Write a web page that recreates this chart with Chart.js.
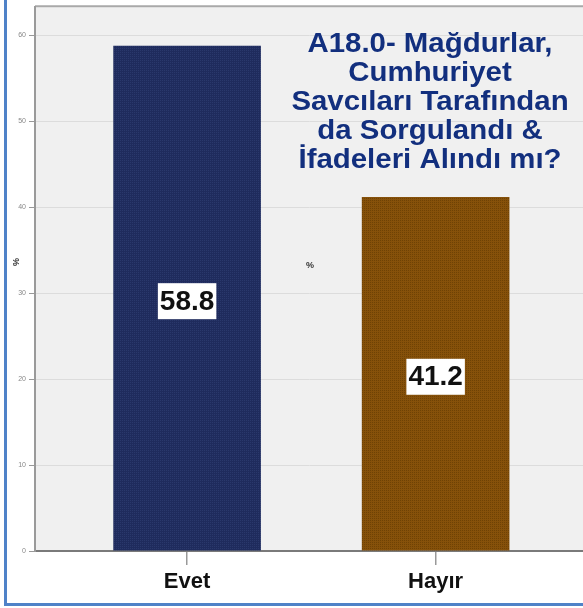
<!DOCTYPE html>
<html>
<head>
<meta charset="utf-8">
<script src="https://cdn.jsdelivr.net/npm/chart.js@4.4.1/dist/chart.umd.min.js"></script>
<style>
  html, body { margin: 0; padding: 0; background: #ffffff; }
  canvas { display: block; }
</style>
</head>
<body>
<canvas id="c" width="583" height="608"></canvas>
<script>
// ---- data ----
const categories = ['Evet', 'Hayır'];
const values = [58.8, 41.2];
const yTicks = [0, 10, 20, 30, 40, 50, 60];
const titleLines = ['A18.0- Mağdurlar,', 'Cumhuriyet', 'Savcıları Tarafından', 'da Sorgulandı &', 'İfadeleri Alındı mı?'];
const axisTitle = '%';

const FONT = '"Liberation Sans", Arial, sans-serif';

function makePattern(base, dot) {
  const p = document.createElement('canvas');
  p.width = 2; p.height = 2;
  const g = p.getContext('2d');
  g.fillStyle = base; g.fillRect(0, 0, 2, 2);
  g.fillStyle = dot; g.fillRect(0, 0, 1, 1);
  return g.createPattern(p, 'repeat');
}
const barFills = [makePattern('#1f2b5d', '#2a386c'), makePattern('#86510a', '#6f4204')];

const framePlugin = {
  id: 'frame',
  beforeDraw(chart) {
    const {ctx, chartArea: a} = chart;
    ctx.save();
    ctx.fillStyle = '#f0f0f0';
    ctx.fillRect(a.left, a.top, a.right - a.left, a.bottom - a.top);
    ctx.strokeStyle = '#a9a9a9';
    ctx.lineWidth = 2;
    ctx.beginPath();
    ctx.moveTo(a.left, a.top - 1);
    ctx.lineTo(a.right, a.top - 1);
    ctx.stroke();
    ctx.restore();
  },
  afterDatasetsDraw(chart) {
    const {ctx} = chart;
    const meta = chart.getDatasetMeta(0);
    ctx.save();
    ctx.font = 'bold 28px ' + FONT;
    ctx.textAlign = 'center';
    ctx.textBaseline = 'middle';
    meta.data.forEach((bar, i) => {
      const txt = values[i].toFixed(1);
      const cy = (bar.y + bar.base) / 2 + 3;
      const w = ctx.measureText(txt).width + 4;
      const h = 36;
      ctx.fillStyle = '#ffffff';
      ctx.fillRect(bar.x - w / 2, cy - h / 2, w, h);
      ctx.fillStyle = '#111111';
      ctx.fillText(txt, bar.x, cy + 1);
    });
    ctx.restore();
  },
  afterDraw(chart) {
    const {ctx} = chart;
    ctx.save();
    // title
    ctx.font = 'bold 28px ' + FONT;
    ctx.fillStyle = '#122f7e';
    ctx.textAlign = 'center';
    ctx.textBaseline = 'alphabetic';
    titleLines.forEach((t, i) => {
      ctx.save();
      ctx.translate(430, 52 + i * 29);
      ctx.scale(1.05, 1);
      ctx.fillText(t, 0, 0);
      ctx.restore();
    });
    // axis titles
    ctx.fillStyle = '#333333';
    ctx.font = 'bold 9px ' + FONT;
    ctx.textBaseline = 'middle';
    ctx.fillText(axisTitle, 310, 266);
    ctx.translate(17, 262);
    ctx.rotate(-Math.PI / 2);
    ctx.fillText(axisTitle, 0, 0);
    ctx.restore();
    // blue frame
    ctx.save();
    ctx.strokeStyle = '#4f82c8';
    ctx.lineWidth = 3;
    ctx.beginPath();
    ctx.moveTo(5.5, 0);
    ctx.lineTo(5.5, 604.5);
    ctx.lineTo(583, 604.5);
    ctx.stroke();
    ctx.restore();
  }
};

new Chart(document.getElementById('c'), {
  type: 'bar',
  data: {
    datasets: [{
      data: values.map((v, i) => ({x: i, y: v})),
      backgroundColor: barFills,
      borderWidth: 0,
      categoryPercentage: 1,
      barPercentage: 0.594
    }]
  },
  options: {
    responsive: false,
    animation: false,
    layout: { padding: { left: 0, top: 5, right: 0, bottom: 0 } },
    plugins: { legend: { display: false }, tooltip: { enabled: false }, title: { display: false } },
    scales: {
      x: {
        type: 'linear',
        offset: false,
        min: -0.612,
        max: 1.593,
        afterBuildTicks: s => { s.ticks = categories.map((_, i) => ({value: i})); },
        afterFit: s => { s.height = 57; },
        ticks: {
          autoSkip: false,
          maxRotation: 0,
          padding: 4,
          color: '#111111',
          font: { family: FONT, size: 22, weight: 'bold' },
          callback: v => categories[v]
        },
        grid: { offset: false, drawOnChartArea: false, tickLength: 14, tickColor: '#999999', lineWidth: 1.5 },
        border: { display: true, color: '#7a7a7a', width: 2 }
      },
      y: {
        min: 0,
        max: 63.3,
        afterBuildTicks: s => { s.ticks = yTicks.map(v => ({value: v})); },
        afterFit: s => { s.width = 35; },
        ticks: {
          padding: 3,
          color: '#888888',
          font: { family: FONT, size: 7 }
        },
        grid: { color: '#dcdcdc', tickColor: '#999999', tickLength: 6, lineWidth: 1 },
        border: { display: true, color: '#9a9a9a', width: 2 }
      }
    }
  },
  plugins: [framePlugin]
});
</script>
</body>
</html>
